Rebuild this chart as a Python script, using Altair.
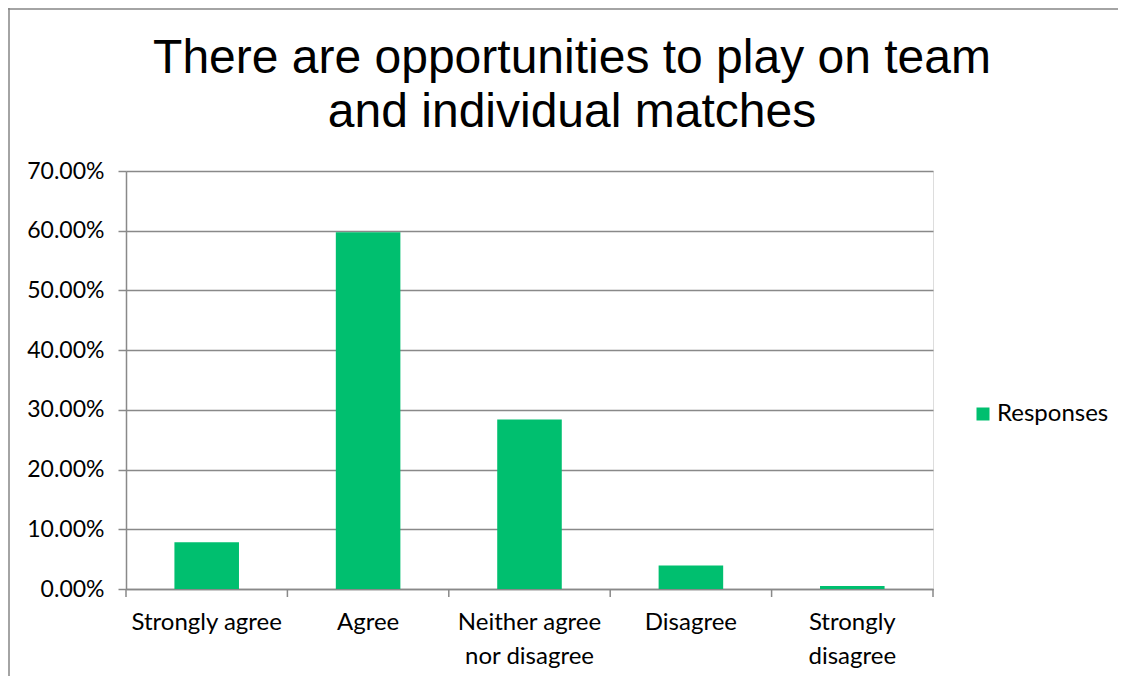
import altair as alt
import pandas as pd

categories = ["Strongly agree", "Agree", "Neither agree nor disagree", "Disagree", "Strongly disagree"]
values = [0.0783, 0.5973, 0.2839, 0.0395, 0.005]
series_name = "Responses"
title_lines = ["There are opportunities to play on team", "and individual matches"]
y_ticks = [0, 0.1, 0.2, 0.3, 0.4, 0.5, 0.6, 0.7]
# category boundaries (in category-index units) where the x-axis ticks sit
x_tick_bounds = [0, 1, 2, 3, 4, 5]

df = pd.DataFrame({"category": categories, "value": values, "series": [series_name] * len(categories)})
bounds_df = pd.DataFrame({"b": x_tick_bounds})

W, H = 807, 418
PL, PT, PR, PB = 118, 163, 185, 87
GRAY = "#898989"

label_expr = (
    "datum.value == 'Neither agree nor disagree' ? ['Neither agree', 'nor disagree'] : "
    "datum.value == 'Strongly disagree' ? ['Strongly', 'disagree'] : datum.value"
)

bars = alt.Chart(df).mark_bar(color="#00BF6F").encode(
    x=alt.X(
        "category:N",
        sort=categories,
        title=None,
        scale=alt.Scale(paddingInner=0.6, paddingOuter=0.3),
        axis=alt.Axis(
            labelAngle=0,
            labelExpr=label_expr,
            labelFont="Lato",
            labelFontSize=24,
            labelColor="#000000",
            labelLineHeight=34,
            labelPadding=21,
            labelBaseline="top",
            ticks=False,
            domainColor=GRAY,
            domainWidth=1.5,
            grid=False,
        ),
    ),
    y=alt.Y(
        "value:Q",
        title=None,
        scale=alt.Scale(domain=[0, 0.7], nice=False),
        axis=alt.Axis(
            values=y_ticks,
            format=".2%",
            labelFont="Lato",
            labelFontSize=23,
            labelColor="#000000",
            labelPadding=14,
            tickSize=8,
            tickColor=GRAY,
            tickWidth=1.5,
            domainColor=GRAY,
            domainWidth=1.5,
            gridColor=GRAY,
            gridWidth=1.5,
        ),
    ),
    color=alt.Color(
        "series:N",
        scale=alt.Scale(range=["#00BF6F"]),
        legend=alt.Legend(
            title=None,
            orient="none",
            legendX=845,
            legendY=231,
            symbolType="square",
            symbolSize=169,
            symbolStrokeWidth=0,
            labelFont="Lato",
            labelFontSize=24,
            labelColor="#000000",
            labelOffset=2,
            padding=0,
        ),
    ),
)

x_ticks = alt.Chart(bounds_df).mark_rule(color=GRAY, strokeWidth=1.5).encode(
    x=alt.X("b:Q", scale=alt.Scale(domain=[0, len(categories)], nice=False, zero=False), axis=None),
    y=alt.value(H),
    y2=alt.value(H + 8),
)

title_df = pd.DataFrame({"k": [0]})
title = alt.Chart(title_df).mark_text(
    text=title_lines,
    font="Liberation Sans",
    fontSize=48,
    lineHeight=54,
    align="center",
    baseline="alphabetic",
    color="#000000",
).encode(x=alt.value(446), y=alt.value(-98))

border_left = alt.Chart(title_df).mark_rule(color="#868686", strokeWidth=1.5).encode(
    x=alt.value(-117), y=alt.value(-163), y2=alt.value(H + PB)
)
border_top = alt.Chart(title_df).mark_rule(color="#868686", strokeWidth=1.5).encode(
    x=alt.value(-118), x2=alt.value(W + PR), y=alt.value(-162)
)

chart = alt.layer(border_left, border_top, bars, x_ticks, title).resolve_scale(
    x="independent"
).properties(
    width=W,
    height=H,
    padding={"left": PL, "top": PT, "right": PR, "bottom": PB},
    autosize=alt.AutoSizeParams(type="none"),
).configure_view(stroke=None).configure(background="white")

chart.save("out.html", embed_options={"renderer": "svg", "actions": False})
